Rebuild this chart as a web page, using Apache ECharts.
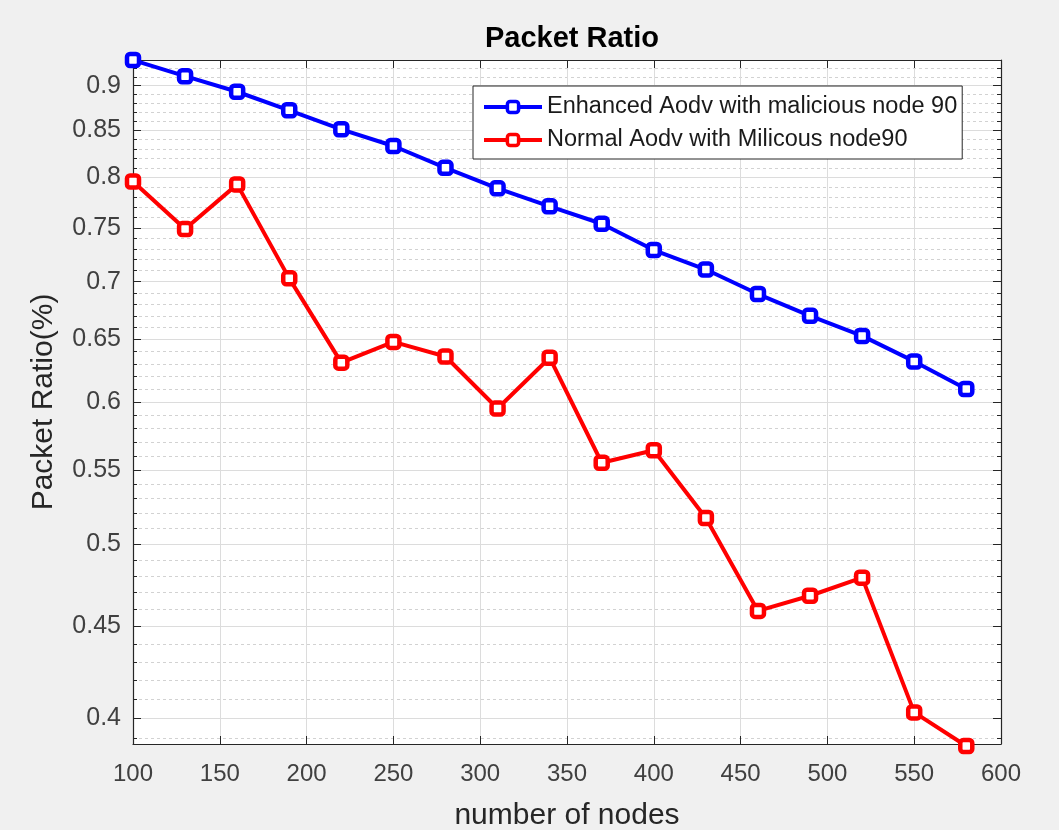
<!DOCTYPE html>
<html>
<head>
<meta charset="utf-8">
<script src="https://cdn.jsdelivr.net/npm/echarts@6/dist/echarts.min.js"></script>
<style>
html,body{margin:0;padding:0;background:#f0f0f0;}
#chart{width:1059px;height:830px;}
</style>
</head>
<body>
<div id="chart"></div>
<script>
const nodes = [100,130,160,190,220,250,280,310,340,370,400,430,460,490,520,550,580];
const enhanced = [0.930,0.911,0.893,0.872,0.851,0.833,0.810,0.789,0.771,0.754,0.729,0.711,0.689,0.670,0.653,0.632,0.610];
const normal = [0.796,0.749,0.793,0.703,0.631,0.648,0.636,0.595,0.635,0.555,0.564,0.517,0.459,0.468,0.479,0.403,0.386];
const seriesNames = ['Enhanced Aodv with malicious node 90','Normal Aodv with Milicous node90'];
const yMajorTicks = [0.4,0.45,0.5,0.55,0.6,0.65,0.7,0.75,0.8,0.85,0.9];
const yMajorLabels = ['0.4','0.45','0.5','0.55','0.6','0.65','0.7','0.75','0.8','0.85','0.9'];
const yMinorTicks = [0.39,0.41,0.42,0.43,0.44,0.46,0.47,0.48,0.49,0.51,0.52,0.53,0.54,0.56,0.57,0.58,0.59,0.61,0.62,0.63,0.64,0.66,0.67,0.68,0.69,0.71,0.72,0.73,0.74,0.76,0.77,0.78,0.79,0.81,0.82,0.83,0.84,0.86,0.87,0.88,0.89,0.91,0.92,0.93];
const xMin = 100, xMax = 600, xStep = 50;
const yMin = 0.387, yMax = 0.9301;

const FONT = '"Liberation Sans", Arial, sans-serif';
const AX = '#262626';
const chart = echarts.init(document.getElementById('chart'));

function yLabel(v){
  let best = 0, bd = Infinity;
  yMajorTicks.forEach((t,i)=>{const d=Math.abs(t-v); if(d<bd){bd=d;best=i;}});
  return yMajorLabels[best];
}

function yAx(pos, ticks, len, labels, split, line){
  return {
    type:'log', logBase:10, min:yMin, max:yMax, position:pos,
    axisLine:{show:line, lineStyle:{color:AX,width:1.2}},
    axisTick:{show:true, inside:true, length:len, customValues:ticks, lineStyle:{color:AX,width:1}},
    axisLabel:{show:labels, customValues:ticks, formatter:yLabel, fontSize:25, color:'#404040', fontFamily:FONT, margin:12},
    splitLine: split,
    minorTick:{show:false}, minorSplitLine:{show:false}
  };
}

const option = {
  backgroundColor:'#f0f0f0',
  animation:false,
  title:{
    text:'Packet Ratio', left:567, top:19, textAlign:'center',
    textStyle:{fontSize:29, fontWeight:'bold', color:'#000', fontFamily:FONT}
  },
  legend:{
    orient:'vertical', left:473, top:86,
    backgroundColor:'#fff', borderColor:'#262626', borderWidth:1, borderRadius:0,
    padding:[9,5,7,9], itemGap:9, itemWidth:58, itemHeight:14,
    lineStyle:{width:4},
    itemStyle:{borderWidth:3.5},
    textStyle:{fontSize:23.5, color:'#1a1a1a', fontFamily:FONT},
    data:seriesNames
  },
  grid:{left:133, right:58, top:60, bottom:86, show:true, backgroundColor:'#fff', borderWidth:0, outerBoundsMode:'none', containLabel:false},
  xAxis:[
    {
      type:'value', min:xMin, max:xMax, interval:xStep, position:'bottom',
      name:'number of nodes', nameLocation:'middle', nameGap:57,
      nameTextStyle:{fontSize:30, color:'#262626', fontFamily:FONT},
      axisLine:{show:true, lineStyle:{color:AX,width:1.2}},
      axisTick:{inside:true, length:8, lineStyle:{color:AX}},
      axisLabel:{fontSize:24, color:'#404040', fontFamily:FONT, margin:18},
      splitLine:{show:true, lineStyle:{color:'#dcdcdc', width:1}}
    },
    {
      type:'value', min:xMin, max:xMax, interval:xStep, position:'top',
      axisLine:{show:true, lineStyle:{color:AX,width:1.2}},
      axisTick:{inside:true, length:8, lineStyle:{color:AX}},
      axisLabel:{show:false}, splitLine:{show:false}
    }
  ],
  yAxis:[
    Object.assign(yAx('left', yMajorTicks, 8, true, {show:true, lineStyle:{color:'#dcdcdc', width:1}}, true),
      {name:'Packet Ratio(%)', nameLocation:'middle', nameGap:74,
       nameTextStyle:{fontSize:30, color:'#262626', fontFamily:FONT}}),
    yAx('left', yMinorTicks, 4, false, {show:true, lineStyle:{color:'#d2d2d2', width:1, type:[3,3]}}, false),
    yAx('right', yMajorTicks, 8, false, {show:false}, true),
    yAx('right', yMinorTicks, 4, false, {show:false}, false)
  ],
  series:[
    {
      name:seriesNames[0], type:'line', xAxisIndex:0, yAxisIndex:0, clip:false,
      data: nodes.map((x,i)=>[x, enhanced[i]]),
      symbol:'roundRect', symbolSize:12,
      lineStyle:{color:'#0000ff', width:4},
      itemStyle:{color:'#fff', borderColor:'#0000ff', borderWidth:4.5},
      z:5
    },
    {
      name:seriesNames[1], type:'line', xAxisIndex:0, yAxisIndex:0, clip:false,
      data: nodes.map((x,i)=>[x, normal[i]]),
      symbol:'roundRect', symbolSize:12,
      lineStyle:{color:'#ff0000', width:4},
      itemStyle:{color:'#fff', borderColor:'#ff0000', borderWidth:4.5},
      z:5
    }
  ]
};
chart.setOption(option);
</script>
</body>
</html>
